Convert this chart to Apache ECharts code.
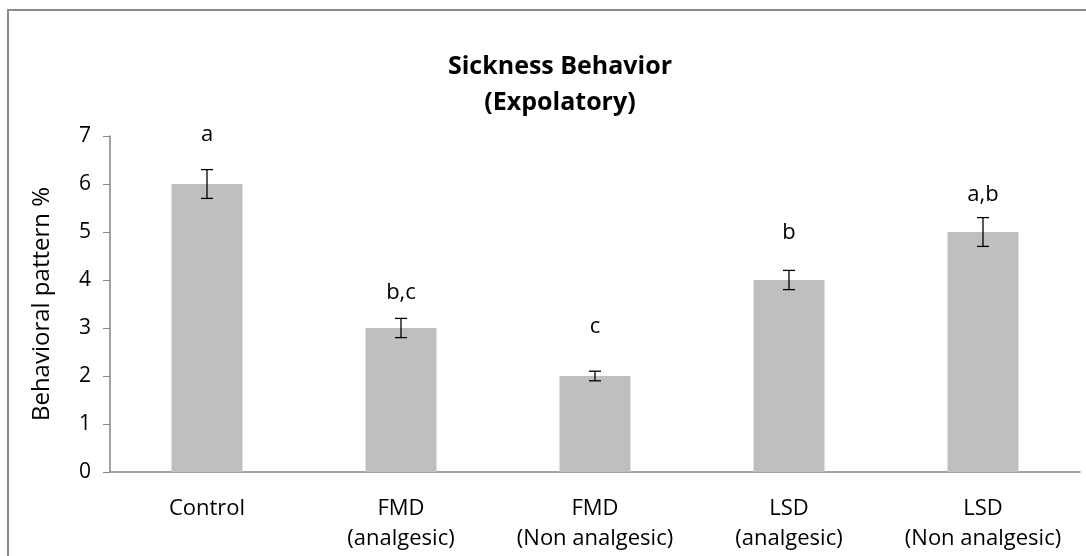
<!DOCTYPE html>
<html>
<head>
<meta charset="utf-8">
<script src="https://cdn.jsdelivr.net/npm/echarts@6/dist/echarts.min.js"></script>
<style>
  html, body { margin: 0; padding: 0; background: #fff; }
  #chart { width: 1086px; height: 556px; }
</style>
</head>
<body>
<div id="chart"></div>
<script>
// data
const categories = ["Control", "FMD\n(analgesic)", "FMD\n(Non analgesic)", "LSD\n(analgesic)", "LSD\n(Non analgesic)"];
const means = [6, 3, 2, 4, 5];
const errors = [0.3, 0.2, 0.1, 0.2, 0.3];
const letters = ["a", "b,c", "c", "b", "a,b"];
const letterAt = [7.03, 3.74, 3.03, 4.99, 5.78]; // where the letters sit, in axis units
const yTicks = [0, 1, 2, 3, 4, 5, 6, 7];

const font = "'Open Sans', 'Liberation Sans', sans-serif";
const axisGrey = "#868686";

const chart = echarts.init(document.getElementById("chart"), null, { renderer: "canvas" });

const option = {
  animation: false,
  backgroundColor: "#fff",
  title: {
    text: "Sickness Behavior\n(Expolatory)",
    left: 555,
    top: 44,
    textAlign: "center",
    textStyle: { fontFamily: font, fontSize: 25, fontWeight: "bold", color: "#000", lineHeight: 36 }
  },
  grid: { left: 110, right: 6, top: 136, bottom: 84 },
  xAxis: {
    type: "category",
    data: categories,
    axisLine: { lineStyle: { color: axisGrey, width: 1.5 } },
    axisTick: { show: false },
    axisLabel: {
      interval: 0,
      hideOverlap: false,
      fontFamily: font, fontSize: 22, color: "#000", lineHeight: 30, margin: 22
    }
  },
  yAxis: {
    type: "value",
    min: yTicks[0],
    max: yTicks[yTicks.length - 1],
    interval: 1,
    name: "Behavioral pattern %",
    nameLocation: "middle",
    nameGap: 56,
    nameTextStyle: { fontFamily: font, fontSize: 24, color: "#000" },
    axisLine: { show: true, lineStyle: { color: axisGrey, width: 1.5 } },
    axisTick: { show: true, length: 7, lineStyle: { color: axisGrey } },
    splitLine: { show: false },
    axisLabel: { fontFamily: font, fontSize: 21, color: "#000", margin: 19 }
  },
  series: [
    {
      type: "bar",
      data: means,
      barWidth: 71,
      itemStyle: { color: "#bfbfbf" },
      silent: true
    },
    {
      type: "custom",
      data: means.map((m, i) => [i, m, errors[i], letterAt[i]]),
      renderItem: function (params, api) {
        const i = api.value(0);
        const m = api.value(1);
        const e = api.value(2);
        const top = api.coord([i, m + e]);
        const bot = api.coord([i, m - e]);
        const lab = api.coord([i, api.value(3)]);
        const cap = 6;
        const st = { stroke: "#000", lineWidth: 1.3 };
        return {
          type: "group",
          children: [
            { type: "line", shape: { x1: top[0], y1: top[1], x2: bot[0], y2: bot[1] }, style: st },
            { type: "line", shape: { x1: top[0] - cap, y1: top[1], x2: top[0] + cap, y2: top[1] }, style: st },
            { type: "line", shape: { x1: bot[0] - cap, y1: bot[1], x2: bot[0] + cap, y2: bot[1] }, style: st },
            {
              type: "text",
              style: {
                x: lab[0], y: lab[1],
                text: letters[params.dataIndex],
                align: "center", verticalAlign: "middle",
                font: "22px " + font,
                fill: "#000"
              }
            }
          ]
        };
      },
      z: 5
    }
  ],
  graphic: [
    {
      type: "rect",
      shape: { x: 8, y: 10, width: 1200, height: 700 },
      style: { fill: "none", stroke: "#8a8a8a", lineWidth: 2 },
      silent: true
    }
  ]
};

chart.setOption(option);
</script>
</body>
</html>
